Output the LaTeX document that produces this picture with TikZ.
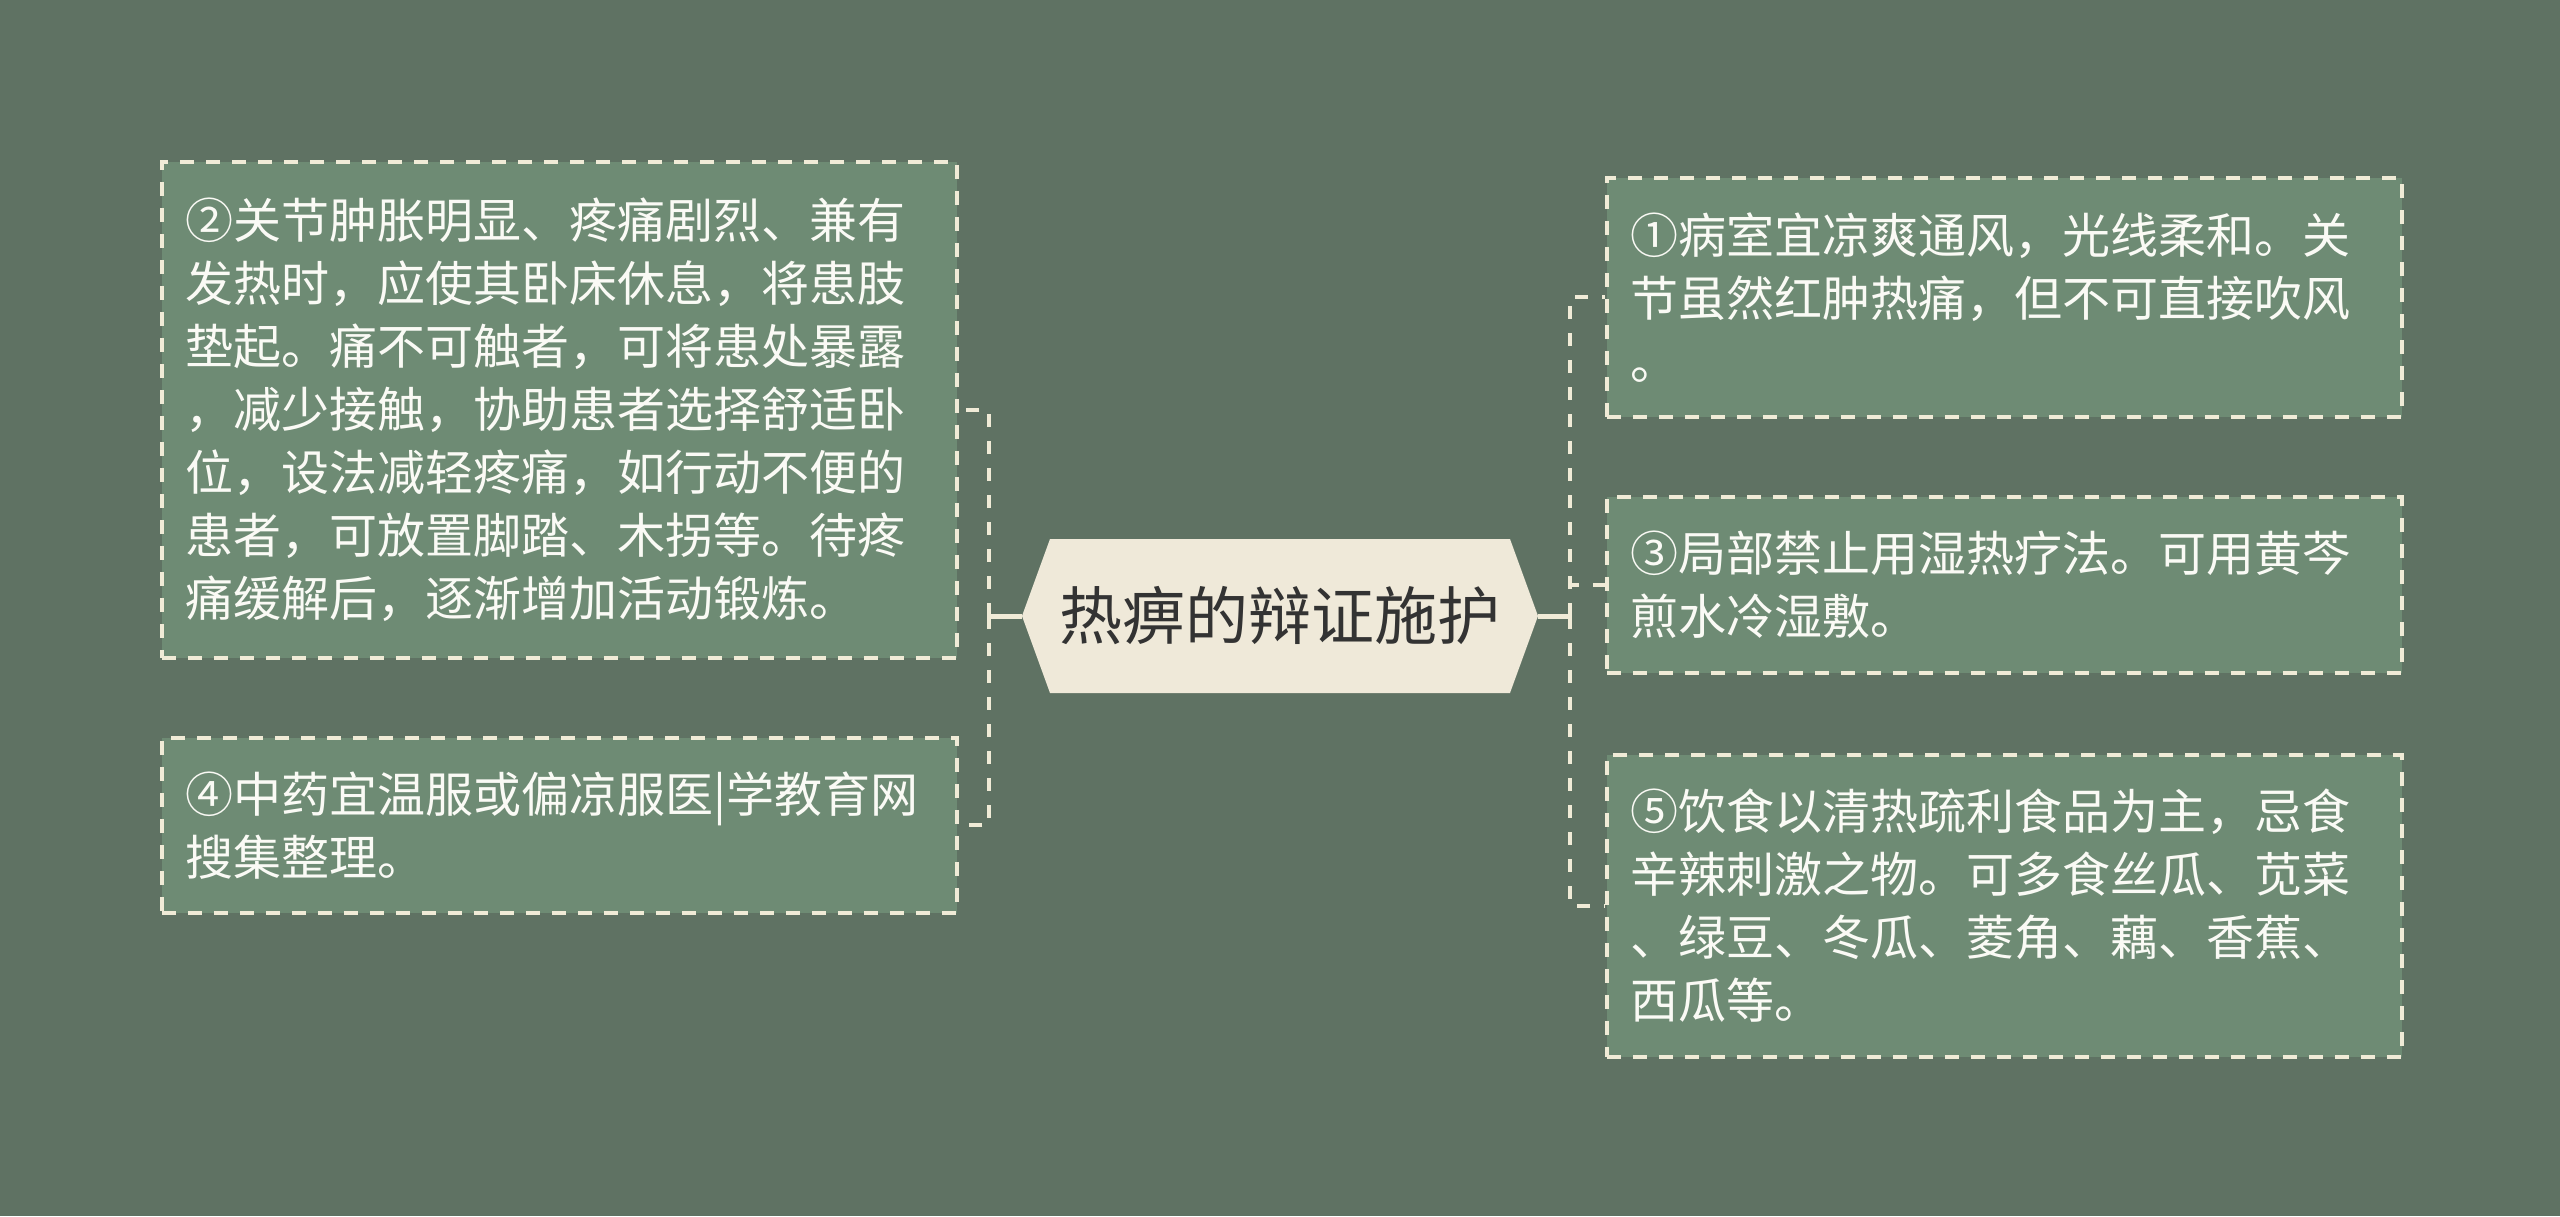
\documentclass[tikz,border=0pt]{standalone}
\usepackage{fontspec}
\setmainfont{Noto Sans CJK SC}
\definecolor{bgc}{RGB}{95,114,99}
\definecolor{boxc}{RGB}{110,139,116}
\definecolor{hexc}{RGB}{239,233,217}
\definecolor{linec}{RGB}{240,235,215}
\definecolor{txtc}{RGB}{250,250,245}
\definecolor{darktxt}{RGB}{51,51,51}
\begin{document}
\begin{tikzpicture}[x=1pt,y=-1pt,
  leaf/.style={draw=linec, fill=boxc, line width=3.5pt, dash pattern=on 14pt off 12pt,
    anchor=north west, minimum width=795pt, text width=747pt, inner xsep=24pt, inner ysep=0pt,
    align=left, text=txtc, font=\fontsize{48}{63}\selectfont},
  hexnode/.style={minimum width=516pt, minimum height=154pt, inner sep=0pt, text=darktxt,
    font=\fontsize{63}{70}\selectfont,
    path picture={\fill[hexc] ([xshift=28pt]path picture bounding box.north west) -- (path picture bounding box.west) -- ([xshift=28pt]path picture bounding box.south west) -- ([xshift=-28pt]path picture bounding box.south east) -- (path picture bounding box.east) -- ([xshift=-28pt]path picture bounding box.north east) -- cycle;}},
  dline/.style={draw=linec, line width=4pt, dash pattern=on 13pt off 14pt},
  sline/.style={draw=linec, line width=5pt}
]
\fill[bgc] (0,0) rectangle (2560,1216);
\useasboundingbox (0,0) rectangle (2560,1216);

\node[hexnode] (hex) at (1280,616) {热痹的辩证施护};

\node[leaf, minimum height=496pt] (b2) at (160,160) {②关节肿胀明显、疼痛剧烈、兼有\\发热时，应使其卧床休息，将患肢\\垫起。痛不可触者，可将患处暴露\\，减少接触，协助患者选择舒适卧\\位，设法减轻疼痛，如行动不便的\\患者，可放置脚踏、木拐等。待疼\\痛缓解后，逐渐增加活动锻炼。};
\node[leaf, minimum height=175pt] (b4) at (160,736) {④中药宜温服或偏凉服医|学教育网\\搜集整理。};

\node[leaf, minimum height=239pt] (b1) at (1605,176) {①病室宜凉爽通风，光线柔和。关\\节虽然红肿热痛，但不可直接吹风\\。};
\node[leaf, minimum height=176pt] (b3) at (1605,495) {③局部禁止用湿热疗法。可用黄芩\\煎水冷湿敷。};
\node[leaf, minimum height=302pt] (b5) at (1605,753) {⑤饮食以清热疏利食品为主，忌食\\辛辣刺激之物。可多食丝瓜、苋菜\\、绿豆、冬瓜、菱角、藕、香蕉、\\西瓜等。};

\coordinate (lt) at (989,616);
\coordinate (rt) at (1570,616);

\draw[dline] (lt) |- (b2.east);
\draw[dline] (lt) |- (b4.east);
\draw[sline] (hex.west) -- (lt);

\draw[dline] (rt) |- (b1.west);
\draw[dline] (rt) |- (b3.west);
\draw[dline] (rt) |- (b5.west);
\draw[sline] (hex.east) -- (rt);
\end{tikzpicture}
\end{document}
